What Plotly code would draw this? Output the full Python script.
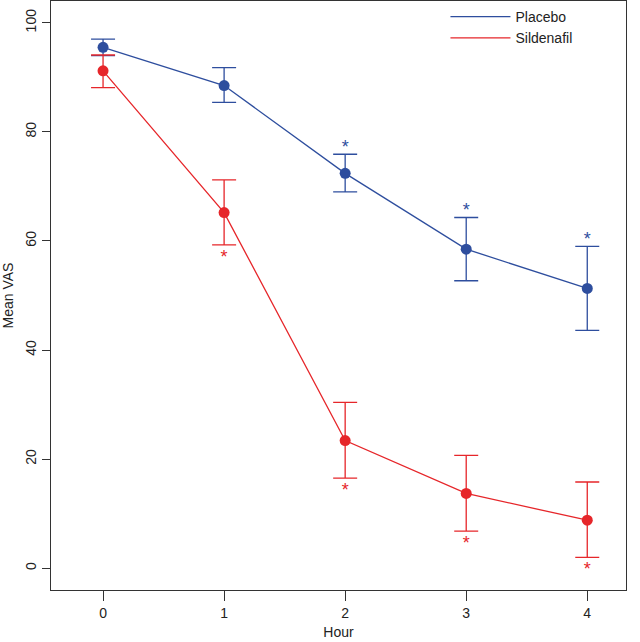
import plotly.graph_objects as go

hours = [0, 1, 2, 3, 4]
placebo_mean = [95.5, 88.5, 72.4, 58.5, 51.3]
placebo_upper = [97.0, 91.8, 75.9, 64.3, 59.0]
placebo_lower = [94.0, 85.4, 69.0, 52.7, 43.6]
sild_mean = [91.2, 65.2, 23.4, 13.7, 8.8]
sild_upper = [94.1, 71.2, 30.4, 20.7, 15.8]
sild_lower = [88.1, 59.3, 16.5, 6.8, 2.0]
placebo_sig = [False, False, True, True, True]
sild_sig = [False, True, True, True, True]

BLUE = "#2E4E9E"
RED = "#E6262A"
FONT = "Liberation Sans, Arial"

fig = go.Figure()

def add_series(name, mean, up, lo, color):
    fig.add_trace(go.Scatter(
        x=hours, y=mean, name=name, mode="lines+markers", showlegend=False,
        line=dict(color=color, width=1.3),
        marker=dict(color=color, size=11),
        error_y=dict(type="data", symmetric=False,
                     array=[u - m for u, m in zip(up, mean)],
                     arrayminus=[m - l for m, l in zip(mean, lo)],
                     color=color, thickness=1.3, width=12),
    ))
    # legend entry: line only
    fig.add_trace(go.Scatter(
        x=[None], y=[None], name=name, mode="lines",
        line=dict(color=color, width=1.3), showlegend=True))

add_series("Placebo", placebo_mean, placebo_upper, placebo_lower, BLUE)
add_series("Sildenafil", sild_mean, sild_upper, sild_lower, RED)

# significance asterisks
fig.add_trace(go.Scatter(
    x=[h for h, s in zip(hours, placebo_sig) if s],
    y=[u - 0.6 for u, s in zip(placebo_upper, placebo_sig) if s],
    mode="text", text=["*"] * sum(placebo_sig), textposition="top center",
    textfont=dict(color=BLUE, size=18, family=FONT),
    showlegend=False, hoverinfo="skip"))
fig.add_trace(go.Scatter(
    x=[h for h, s in zip(hours, sild_sig) if s],
    y=[l - 0.8 for l, s in zip(sild_lower, sild_sig) if s],
    mode="text", text=["*"] * sum(sild_sig), textposition="bottom center",
    textfont=dict(color=RED, size=18, family=FONT),
    showlegend=False, hoverinfo="skip"))

fig.update_layout(
    width=640, height=642,
    margin=dict(l=51, r=14, t=1, b=52, autoexpand=False),
    plot_bgcolor="white", paper_bgcolor="white",
    font=dict(family=FONT, size=13, color="#222"),
    showlegend=True,
    legend=dict(x=0.686, y=1.0, xanchor="left", yanchor="top",
                bgcolor="rgba(0,0,0,0)", font=dict(size=14),
                tracegroupgap=0, itemwidth=60),
    xaxis=dict(range=[-0.43, 4.32], tickvals=hours, ticks="outside", ticklen=10,
               tickcolor="#333", showline=True, mirror=True, linecolor="#333",
               linewidth=1.2, showgrid=False, zeroline=False, automargin=False,
               tickfont=dict(size=14),
               title=dict(text="Hour", standoff=7, font=dict(size=14))),
    yaxis=dict(range=[-4, 104], tickvals=[0, 20, 40, 60, 80, 100], ticks="outside",
               ticklen=8, tickcolor="#333", tickangle=-90, showline=True, mirror=True,
               linecolor="#333", linewidth=1.2, showgrid=False, zeroline=False,
               automargin=False, tickfont=dict(size=14),
               title=dict(text="Mean VAS", standoff=6, font=dict(size=14))),
)

fig.write_html("out.html", config={"displayModeBar": False},
               post_script="document.body.style.margin='0';document.body.style.padding='0';")
